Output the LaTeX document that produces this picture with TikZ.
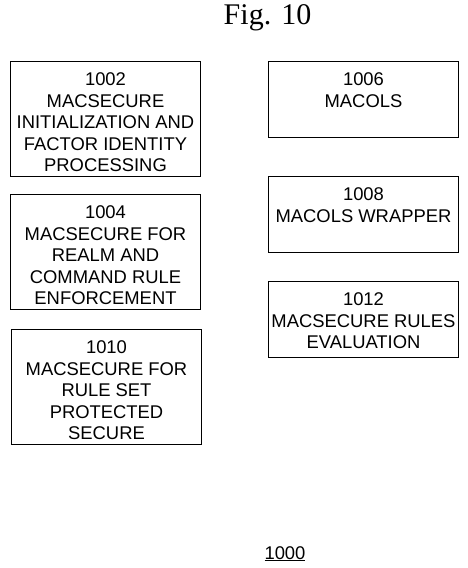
\documentclass[tikz,border=0pt]{standalone}
\usepackage{fontspec}
\setmainfont{Liberation Sans}
\newfontfamily\figfont{Liberation Serif}
\usepackage{tikz}
\usetikzlibrary{positioning}

% text of a block: fixed height, lines start at the top
\newcommand{\blocktext}[2]{\parbox[c][#1][t]{185pt}{\centering\fontsize{18.4}{21.5}\selectfont\vspace*{9pt}#2}}

\begin{document}
\begin{tikzpicture}[x=1pt,y=-1pt]
	\useasboundingbox (0,0) rectangle (468,568);
	\node[anchor=base,font=\figfont\fontsize{30}{34}\selectfont] (figtitle) at (267.5,24) {Fig. 10};
	\begin{scope}[every node/.style={draw,line width=1pt,anchor=north west,inner sep=2.5pt}]
		\node (1002) at (10,61) {\blocktext{110pt}{1002\\MACSECURE\\INITIALIZATION AND\\FACTOR IDENTITY\\PROCESSING}};
		\node (1004) at (10,194) {\blocktext{110pt}{1004\\MACSECURE FOR\\REALM AND\\COMMAND RULE\\ENFORCEMENT}};
		\node (1010) at (11,329) {\blocktext{110pt}{1010\\MACSECURE FOR\\RULE SET\\PROTECTED\\SECURE}};
		\node (1006) at (268,61) {\blocktext{71pt}{1006\\MACOLS}};
		\node (1008) at (268,176) {\blocktext{71pt}{1008\\MACOLS WRAPPER}};
		\node (1012) at (268,281) {\blocktext{71pt}{1012\\MACSECURE RULES\\EVALUATION}};
	\end{scope}
	\node[anchor=base,font=\fontsize{18.4}{21.5}\selectfont] (1000) at (285,559) {\underline{1000}};
\end{tikzpicture}
\end{document}
